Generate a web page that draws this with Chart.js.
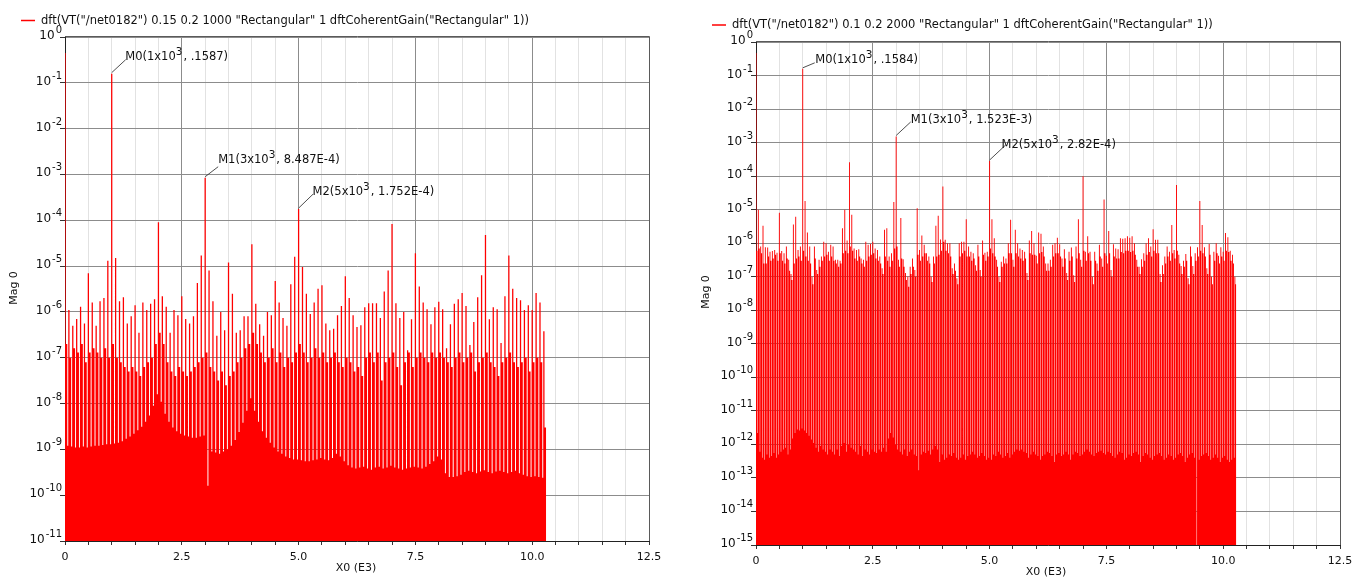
<!DOCTYPE html>
<html>
<head>
<meta charset="utf-8">
<title>DFT magnitude</title>
<script src="https://cdn.jsdelivr.net/npm/chart.js@4.4.1/dist/chart.umd.min.js"></script>
<style>
  html, body { margin: 0; padding: 0; background: #fff; width: 1364px; height: 579px; overflow: hidden; }
  .panel { position: absolute; top: 0; height: 579px; }
  #left-wrap { left: 0; width: 680px; }
  #right-wrap { left: 680px; width: 684px; }
</style>
</head>
<body>
<div class="panel" id="left-wrap"><canvas id="left-chart" width="680" height="579"></canvas></div>
<div class="panel" id="right-wrap"><canvas id="right-chart" width="684" height="579"></canvas></div>
<script>
// ---- left trace: dft 0.15..0.2 s, 1000 pts, lines every 1/12 kHz ----
const leftStep = 1 / 12;
const leftTops = [
  4.5e-1, 1.1e-6, 5e-7, 7e-7, 1.3e-6, 5.6e-7, 7e-6, 1.6e-6, 5e-7, 1.7e-6, 2e-6, 1.3e-5,
  1.587e-1, 1.5e-5, 1.7e-6, 2.1e-6, 5.6e-7, 8e-7, 1.4e-6, 3.5e-7, 1.6e-6, 1.1e-6, 1.5e-6, 1.9e-6,
  9e-5, 2.2e-6, 1.3e-6, 3.5e-7, 1.1e-6, 8.5e-7, 2.2e-6, 7e-7, 5.6e-7, 8e-7, 4.3e-6, 1.7e-5,
  8.487e-4, 8e-6, 1.7e-6, 3e-7, 1e-6, 4e-7, 1.2e-5, 2.5e-6, 3.5e-7, 4e-7, 8e-7, 8e-7,
  3e-5, 1.5e-6, 5.4e-7, 3e-7, 1e-6, 8.5e-7, 4.7e-6, 1.6e-6, 7.4e-7, 5e-7, 4e-6, 1.6e-5,
  1.752e-4, 9.5e-6, 2.5e-6, 9e-7, 1.6e-6, 3.2e-6, 3.8e-6, 5.6e-7, 4e-7, 4.3e-7, 8.5e-7, 1.35e-6,
  6e-6, 2e-6, 8.5e-7, 4.7e-7, 5.1e-7, 1.26e-6, 1.55e-6, 1.55e-6, 1.55e-6, 7.4e-7, 2.8e-6, 8e-6,
  8.3e-5, 1.55e-6, 7.4e-7, 1e-6, 1.45e-7, 6.9e-7, 1.9e-5, 3.6e-6, 1.6e-6, 1.15e-6, 5.4e-7, 1.26e-6,
  1.66e-6, 1.15e-6, 1.6e-7, 5.4e-7, 1.5e-6, 1.9e-6, 2.6e-6, 1.35e-6, 1.9e-7, 6e-7, 2.1e-6, 6.3e-6,
  4.8e-5, 6.9e-7, 1.26e-6, 1.15e-6, 2.1e-7, 2.2e-6, 1.7e-5, 3.2e-6, 2e-6, 1.8e-6, 1.1e-6, 1.4e-6,
  1.1e-6, 2.6e-6, 1.6e-6, 3.8e-7
];
const leftMids = [
  2e-7, 1e-7, 1.6e-7, 1.3e-7, 2e-7, 8e-8, 1.3e-7, 1.6e-7, 1.3e-7, 1e-7, 1.6e-7, 1e-7,
  2e-7, 1e-7, 8e-8, 6.3e-8, 5e-8, 6.3e-8, 5e-8, 4e-8, 6.3e-8, 8e-8, 1e-7, 2e-7,
  3.5e-7, 2e-7, 8e-8, 5e-8, 4e-8, 6.3e-8, 5e-8, 4e-8, 5e-8, 6.3e-8, 8e-8, 1e-7,
  1.3e-7, 6.3e-8, 5e-8, 3.2e-8, 5e-8, 2.5e-8, 4e-8, 5e-8, 8e-8, 1e-7, 1.6e-7, 2e-7,
  3.5e-7, 2e-7, 1.3e-7, 8e-8, 1e-7, 1.6e-7, 8e-8, 1.3e-7, 6.3e-8, 1e-7, 8e-8, 1.3e-7,
  2e-7, 1.3e-7, 8e-8, 1e-7, 1.6e-7, 1e-7, 1.3e-7, 8e-8, 1e-7, 1.3e-7, 8e-8, 6.3e-8,
  1e-7, 8e-8, 5e-8, 6.3e-8, 4e-8, 1e-7, 1.3e-7, 8e-8, 1.3e-7, 3.2e-8, 8e-8, 1e-7,
  1.3e-7, 6.3e-8, 2.5e-8, 8e-8, 1.3e-7, 6.3e-8, 1e-7, 1.3e-7, 1e-7, 8e-8, 1.3e-7, 1e-7,
  1.3e-7, 1e-7, 8e-8, 6.3e-8, 1e-7, 1.3e-7, 8e-8, 1e-7, 1.3e-7, 5e-8, 8e-8, 1e-7,
  1.3e-7, 8e-8, 6.3e-8, 4e-8, 8e-8, 1e-7, 1.3e-7, 8e-8, 6.3e-8, 8e-8, 1e-7, 5e-8,
  8e-8, 1e-7, 8e-8, 3e-9
];
const leftFloors = [
  1.3e-9, 1.2e-9, 1.15e-9, 1.1e-9, 1.1e-9, 1.15e-9, 1.1e-9, 1.15e-9, 1.2e-9, 1.2e-9, 1.25e-9, 1.3e-9,
  1.3e-9, 1.35e-9, 1.4e-9, 1.5e-9, 1.7e-9, 1.9e-9, 2.2e-9, 2.6e-9, 3.1e-9, 4e-9, 5.5e-9, 9e-9,
  1.6e-8, 1.1e-8, 6e-9, 4e-9, 3e-9, 2.5e-9, 2.2e-9, 2e-9, 1.9e-9, 1.8e-9, 1.8e-9, 1.9e-9,
  2e-9, 1.6e-10, 9e-10, 8.5e-10, 8e-10, 9e-10, 1e-9, 1.2e-9, 1.6e-9, 2.4e-9, 3.8e-9, 7e-9,
  1.3e-8, 7e-9, 4e-9, 2.5e-9, 1.8e-9, 1.4e-9, 1.1e-9, 9e-10, 8e-10, 7e-10, 6.5e-10, 6e-10,
  6e-10, 5.8e-10, 5.5e-10, 5.5e-10, 5.8e-10, 6e-10, 6.5e-10, 6e-10, 5.8e-10, 6.5e-10, 8e-10, 7e-10,
  5.5e-10, 4.5e-10, 4e-10, 3.8e-10, 4e-10, 4.2e-10, 3.8e-10, 3.6e-10, 4e-10, 4.2e-10, 3.8e-10, 4e-10,
  4.4e-10, 4e-10, 3.8e-10, 3.6e-10, 3.8e-10, 4e-10, 4.2e-10, 4e-10, 3.8e-10, 4.2e-10, 4.8e-10, 5.5e-10,
  7e-10, 6e-10, 3e-10, 2.5e-10, 2.5e-10, 2.6e-10, 2.8e-10, 3.2e-10, 3.4e-10, 3.2e-10, 3e-10, 3.3e-10,
  3.5e-10, 3.2e-10, 3e-10, 3.3e-10, 3.4e-10, 3.2e-10, 3e-10, 3.2e-10, 3.4e-10, 3e-10, 2.8e-10, 2.6e-10,
  2.5e-10, 2.6e-10, 2.5e-10, 2.4e-10
];

// ---- right trace: dft 0.1..0.2 s, 2000 pts, lines every 50 Hz ----
const rightStep = 0.05;
const rightTops = [
  4.7e-1, 1e-5, 8e-7, 3.3e-6, 7.6e-7, 7.4e-7, 5.6e-7, 5.9e-7, 6.3e-7, 5.2e-7,
  8.1e-6, 5.9e-7, 5e-7, 8e-7, 3.2e-7, 1.2e-7, 3.6e-6, 6.2e-6, 6.3e-7, 8e-7,
  1.584e-1, 1.8e-5, 2.1e-6, 8e-7, 1e-7, 8e-7, 1.6e-7, 3.2e-7, 4e-7, 1.1e-6,
  1e-6, 5.6e-7, 9e-7, 8e-7, 3.2e-7, 3.2e-7, 3e-7, 2.8e-6, 1e-5, 1.2e-6,
  2.6e-4, 7e-6, 7e-7, 6.3e-7, 6.6e-7, 3.5e-7, 3.2e-7, 1.1e-6, 9e-7, 9.5e-7,
  1.1e-6, 7e-7, 6.3e-7, 4e-7, 1.8e-7, 2.5e-6, 2.8e-6, 4e-7, 5e-7, 1.7e-5,
  1.523e-3, 3.2e-7, 5.6e-6, 3.3e-7, 1.3e-7, 1e-7, 2e-7, 3.5e-7, 1.6e-7, 1.1e-5,
  6.3e-7, 1.7e-6, 9e-7, 5e-7, 4e-7, 1e-7, 4e-7, 3.3e-6, 6.6e-6, 1.3e-6,
  4.9e-5, 1.26e-6, 1e-6, 1e-6, 1.8e-7, 2.5e-7, 9e-8, 1e-6, 1.1e-6, 1.1e-6,
  5.2e-6, 8e-7, 5.6e-7, 5e-7, 2.2e-7, 9e-7, 1.6e-7, 1.2e-6, 5.2e-7, 5.6e-7,
  2.82e-4, 5.2e-6, 1.4e-6, 3.2e-7, 1e-7, 2.8e-7, 4e-7, 3.5e-7, 1e-6, 5e-6,
  3.2e-7, 2.5e-6, 1e-6, 7e-7, 6.3e-7, 5.6e-7, 1.3e-7, 1.2e-6, 2.3e-6, 1e-6,
  4.2e-7, 2.1e-6, 1.9e-6, 8e-7, 2.5e-7, 2.5e-7, 3.2e-7, 9e-7, 1e-6, 1.45e-6,
  9.3e-7, 3.5e-7, 6.6e-7, 1.3e-7, 5.6e-7, 7.4e-7, 1.1e-7, 8e-7, 5.2e-6, 3.2e-7,
  1e-4, 5.6e-7, 1.6e-6, 5.6e-7, 1e-7, 5.6e-7, 2.5e-7, 9e-7, 3.5e-7, 2e-5,
  4.2e-7, 2.3e-6, 1.6e-7, 9.3e-7, 7e-7, 6.6e-7, 1.4e-6, 1.35e-6, 1.4e-6, 1.6e-6,
  1.45e-6, 1.6e-6, 1e-6, 3.2e-7, 2e-7, 3.3e-7, 5e-7, 1e-6, 1.4e-6, 8e-7,
  2.6e-6, 1.26e-6, 1.26e-6, 1.2e-7, 2.2e-7, 4e-7, 8e-7, 5.6e-7, 3.5e-6, 6.3e-7,
  5.4e-5, 4.5e-7, 2.1e-7, 3e-7, 4.8e-7, 9e-8, 8e-7, 2.1e-7, 5e-7, 7.6e-7,
  1.8e-5, 3.5e-6, 7.6e-7, 1.8e-7, 9.5e-7, 1e-7, 5.6e-7, 1e-6, 4.2e-7, 7.6e-7,
  5.6e-7, 2e-6, 1.5e-6, 6e-7, 4.5e-7, 1e-7
];
const rightMids = [
  6e-7, 7e-7, 5e-7, 2.5e-7, 2.5e-7, 4e-7, 3e-7, 3.5e-7, 4.5e-7, 3e-7,
  5e-7, 3e-7, 2.5e-7, 3.5e-7, 1.5e-7, 8e-8, 2.5e-7, 3.5e-7, 4e-7, 3e-7,
  6e-7, 4e-7, 3e-7, 2.5e-7, 6e-8, 3.5e-7, 1.2e-7, 2e-7, 3e-7, 4e-7,
  4.5e-7, 3e-7, 4e-7, 3e-7, 2.5e-7, 2e-7, 2.5e-7, 5e-7, 6e-7, 5e-7,
  8e-7, 6e-7, 3.5e-7, 3e-7, 4e-7, 2.5e-7, 2e-7, 3e-7, 4e-7, 4.5e-7,
  5e-7, 3.5e-7, 3e-7, 2.5e-7, 1.2e-7, 4e-7, 3e-7, 2e-7, 3e-7, 7e-7,
  8e-7, 2e-7, 3.5e-7, 2e-7, 8e-8, 5e-8, 1.2e-7, 2e-7, 1e-7, 4.5e-7,
  3e-7, 4e-7, 5e-7, 3e-7, 2.5e-7, 7e-8, 2.5e-7, 4e-7, 4.5e-7, 6e-7,
  1.1e-6, 6e-7, 5e-7, 4e-7, 1.2e-7, 1.5e-7, 6e-8, 4e-7, 5e-7, 6e-7,
  4e-7, 4e-7, 3e-7, 3.5e-7, 1.5e-7, 4e-7, 1e-7, 4.5e-7, 3e-7, 4e-7,
  7e-7, 5e-7, 4e-7, 2e-7, 7e-8, 2e-7, 2.5e-7, 2.5e-7, 5e-7, 5e-7,
  2e-7, 5e-7, 4e-7, 3.5e-7, 3e-7, 3.5e-7, 8e-8, 5e-7, 4.5e-7, 4.5e-7,
  2.5e-7, 5e-7, 5.5e-7, 4e-7, 1.5e-7, 1.5e-7, 2e-7, 4e-7, 5e-7, 5e-7,
  4e-7, 2e-7, 3.5e-7, 8e-8, 3e-7, 4e-7, 7e-8, 3.5e-7, 5e-7, 2e-7,
  6e-7, 3e-7, 5e-7, 3e-7, 6e-8, 3e-7, 1.5e-7, 4e-7, 2e-7, 5e-7,
  2.5e-7, 5e-7, 1e-7, 4e-7, 3.5e-7, 3.5e-7, 5.5e-7, 5e-7, 6e-7, 6e-7,
  5.5e-7, 6e-7, 4.5e-7, 2e-7, 1.2e-7, 2e-7, 3e-7, 4.5e-7, 5.5e-7, 4e-7,
  6e-7, 5e-7, 5e-7, 7e-8, 1.2e-7, 2.5e-7, 4e-7, 3e-7, 5e-7, 3.5e-7,
  6e-7, 2.5e-7, 1.2e-7, 2e-7, 3e-7, 6e-8, 4e-7, 1.2e-7, 3e-7, 4e-7,
  6e-7, 5e-7, 4e-7, 1.2e-7, 4.5e-7, 6e-8, 3e-7, 5e-7, 2.5e-7, 4e-7,
  3e-7, 6e-7, 5.5e-7, 3e-7, 2.5e-7, 6e-8
];
const rightFloors = [
  2.7e-12, 2.2e-12, 6e-13, 4e-13, 3.5e-13, 5e-13, 4e-13, 4.5e-13, 5.5e-13, 4e-13,
  5e-13, 6e-13, 7e-13, 8e-13, 5e-13, 7e-13, 1.5e-12, 2.2e-12, 2.8e-12, 2.6e-12,
  3e-12, 2.6e-12, 2.2e-12, 1.8e-12, 1.4e-12, 1.1e-12, 8e-13, 6e-13, 9e-13, 7e-13,
  6e-13, 5e-13, 7e-13, 6e-13, 5e-13, 7e-13, 4.5e-13, 9e-13, 1.1e-12, 6e-13,
  1e-12, 8e-13, 7e-13, 6e-13, 5e-13, 9e-13, 4.5e-13, 7e-13, 6e-13, 5e-13,
  7e-13, 6e-13, 5.5e-13, 7e-13, 6e-13, 8e-13, 6e-13, 1.5e-12, 2.2e-12, 1.6e-12,
  1e-12, 7e-13, 6e-13, 5e-13, 7e-13, 4.5e-13, 6e-13, 7e-13, 5e-13, 4.5e-13,
  1.7e-13, 5e-13, 6e-13, 5.5e-13, 6.5e-13, 5e-13, 7e-13, 9e-13, 7e-13, 3e-13,
  5e-13, 3.5e-13, 4e-13, 5e-13, 4.5e-13, 5.5e-13, 4e-13, 3.5e-13, 4e-13, 5e-13,
  3.5e-13, 4.5e-13, 5e-13, 6e-13, 5e-13, 4e-13, 4.5e-13, 5.5e-13, 4.5e-13, 3.5e-13,
  4e-13, 3.5e-13, 5e-13, 4.5e-13, 6e-13, 5e-13, 4e-13, 4.5e-13, 5.5e-13, 4e-13,
  5e-13, 6e-13, 7e-13, 6.5e-13, 7e-13, 6e-13, 5.5e-13, 4e-13, 5e-13, 6e-13,
  5e-13, 4.5e-13, 3.5e-13, 4.5e-13, 5e-13, 6e-13, 5.5e-13, 4.5e-13, 3e-13, 5e-13,
  5.5e-13, 4.5e-13, 5e-13, 6e-13, 5e-13, 3.5e-13, 5e-13, 6e-13, 5.5e-13, 4.5e-13,
  5e-13, 6e-13, 7e-13, 6e-13, 5e-13, 4.5e-13, 5.5e-13, 6e-13, 6.5e-13, 5.5e-13,
  5e-13, 6e-13, 5.5e-13, 4.5e-13, 4e-13, 5e-13, 6e-13, 5.5e-13, 3.5e-13, 4e-13,
  5e-13, 4.5e-13, 5.5e-13, 6e-13, 5e-13, 3e-13, 4.5e-13, 5.5e-13, 5e-13, 4e-13,
  3.5e-13, 4.5e-13, 5e-13, 5.5e-13, 4.5e-13, 3.5e-13, 4e-13, 5e-13, 4.5e-13, 3.5e-13,
  4e-13, 5e-13, 5.5e-13, 4.5e-13, 3e-13, 4e-13, 5e-13, 5.5e-13, 4e-13, 1e-16,
  3.5e-13, 4.5e-13, 5e-13, 5.5e-13, 4.5e-13, 3.5e-13, 4e-13, 5e-13, 4e-13, 3e-13,
  4e-13, 4.5e-13, 3.5e-13, 3e-13, 3.5e-13, 4e-13
];

// axis ticks
const xTicks = [0, 2.5, 5, 7.5, 10, 12.5];
const xTickLabels = ['0', '2.5', '5.0', '7.5', '10.0', '12.5'];
const leftYTicks = [1e0, 1e-1, 1e-2, 1e-3, 1e-4, 1e-5, 1e-6, 1e-7, 1e-8, 1e-9, 1e-10, 1e-11];
const rightYTicks = [1e0, 1e-1, 1e-2, 1e-3, 1e-4, 1e-5, 1e-6, 1e-7, 1e-8, 1e-9, 1e-10,
  1e-11, 1e-12, 1e-13, 1e-14, 1e-15];

const FONT = '"DejaVu Sans", Verdana, sans-serif';
const RED = '#ff0000';

// Each spectral line is drawn as three held levels (stepped 'before'):
// a narrow gap down to the floor, the line itself, then a shoulder.
// gap / line are fractions of the line spacing.
function spectrum(tops, mids, floors, step, gap, line) {
  const pts = [];
  for (let k = 0; k < tops.length; k++) {
    const f = k * step;
    pts.push({ x: f - step * (gap + line / 2), y: floors[k] });
    pts.push({ x: f - step * line / 2, y: tops[k] });
    pts.push({ x: f + step * line / 2, y: mids[k] });
  }
  const last = tops.length - 1;
  pts.push({ x: last * step + step * (1 - gap - line / 2), y: mids[last] });
  return pts;
}

function drawParts(ctx, parts, x, y, size) {
  // odd entries are superscripts
  parts.forEach((p, i) => {
    const up = i % 2 === 1;
    ctx.font = `${up ? size - 1 : size}px ${FONT}`;
    ctx.fillText(p, x, up ? y - 5 : y);
    x += ctx.measureText(p).width + (up ? 1 : 0);
  });
}

const decorations = {
  id: 'decorations',
  afterDraw(chart, args, o) {
    const { ctx, chartArea: a, scales: { x, y } } = chart;
    ctx.save();

    // top and right frame
    ctx.strokeStyle = '#5a5a5a';
    ctx.lineWidth = 1;
    ctx.beginPath();
    ctx.moveTo(a.left, a.top - 0.5);
    ctx.lineTo(a.right + 0.5, a.top - 0.5);
    ctx.lineTo(a.right + 0.5, a.bottom);
    ctx.stroke();

    // legend
    ctx.strokeStyle = RED;
    ctx.lineWidth = 1.5;
    ctx.beginPath();
    ctx.moveTo(o.legend.x, o.legend.y);
    ctx.lineTo(o.legend.x + 14, o.legend.y);
    ctx.stroke();
    ctx.fillStyle = '#111';
    ctx.font = `11.5px ${FONT}`;
    ctx.textBaseline = 'middle';
    ctx.textAlign = 'left';
    ctx.fillText(o.legend.text, o.legend.x + 20, o.legend.y + 0.5);

    // y tick labels 10^n
    ctx.textBaseline = 'alphabetic';
    ctx.textAlign = 'right';
    o.yTicks.forEach(v => {
      const py = y.getPixelForValue(v);
      const e = String(Math.round(Math.log10(v)));
      const right = a.left - 3;
      ctx.font = `10px ${FONT}`;
      const ew = ctx.measureText(e).width;
      ctx.fillText(e, right, py - 4);
      ctx.font = `12px ${FONT}`;
      ctx.fillText('10', right - ew - 1, py + 2);
    });

    // axis titles
    ctx.textAlign = 'center';
    ctx.textBaseline = 'middle';
    ctx.font = `11px ${FONT}`;
    ctx.fillText('X0 (E3)', o.xTitle.x, o.xTitle.y);
    ctx.save();
    ctx.translate(o.yTitle.x, o.yTitle.y);
    ctx.rotate(-Math.PI / 2);
    ctx.fillText('Mag 0', 0, 0);
    ctx.restore();

    // markers with leader lines
    ctx.textAlign = 'left';
    ctx.textBaseline = 'alphabetic';
    o.markers.forEach(m => {
      const px = x.getPixelForValue(m.k * o.step);
      const py = y.getPixelForValue(o.tops[m.k]);
      ctx.strokeStyle = '#222';
      ctx.lineWidth = 0.8;
      ctx.beginPath();
      ctx.moveTo(px, py - 1);
      ctx.lineTo(px + m.dx, py + m.dy);
      ctx.stroke();
      ctx.fillStyle = '#111';
      drawParts(ctx, m.parts, px + m.tx, py + m.ty, 11.5);
    });

    ctx.restore();
  }
};

function makeChart(id, cfg) {
  const ctx = document.getElementById(id).getContext('2d');
  return new Chart(ctx, {
    type: 'line',
    data: {
      datasets: [{
        data: spectrum(cfg.tops, cfg.mids, cfg.floors, cfg.step, cfg.gap, cfg.line),
        stepped: 'before',
        fill: 'start',
        backgroundColor: RED,
        borderColor: 'rgba(0,0,0,0)',
        borderWidth: 0,
        pointRadius: 0,
        tension: 0
      }]
    },
    options: {
      responsive: false,
      animation: false,
      events: [],
      layout: { padding: cfg.padding },
      plugins: {
        legend: { display: false },
        tooltip: { enabled: false },
        decorations: {
          legend: cfg.legend,
          xTitle: cfg.xTitle,
          yTitle: cfg.yTitle,
          yTicks: cfg.yTicks,
          markers: cfg.markers,
          tops: cfg.tops,
          step: cfg.step
        }
      },
      scales: {
        x: {
          type: 'linear',
          min: 0,
          max: 12.5,
          afterFit: s => { s.height = cfg.xAxisHeight; },
          border: { color: '#222' },
          grid: {
            color: c => {
              const v = c.tick ? c.tick.value : 0;
              return Math.abs(v / 2.5 - Math.round(v / 2.5)) < 1e-6 ? '#8c8c8c' : '#e2e2e2';
            },
            tickColor: '#333',
            tickLength: 4
          },
          ticks: {
            stepSize: 0.5,
            autoSkip: false,
            maxRotation: 0,
            padding: 6,
            color: '#111',
            font: { family: FONT, size: 11 },
            callback: v => {
              const i = xTicks.findIndex(t => Math.abs(t - v) < 1e-6);
              return i >= 0 ? xTickLabels[i] : '';
            }
          }
        },
        y: {
          type: 'logarithmic',
          min: cfg.yTicks[cfg.yTicks.length - 1],
          max: cfg.yTicks[0],
          afterBuildTicks: s => { s.ticks = cfg.yTicks.map(v => ({ value: v, major: true })); },
          afterFit: s => { s.width = cfg.yAxisWidth; },
          border: { color: '#222' },
          grid: { color: '#8c8c8c', tickColor: '#333', tickLength: 5 },
          ticks: { display: false }
        }
      }
    },
    plugins: [decorations]
  });
}

makeChart('left-chart', {
  tops: leftTops, mids: leftMids, floors: leftFloors, step: leftStep,
  gap: 0.25, line: 0.33,
  yTicks: leftYTicks,
  padding: { left: 0, top: 37, right: 31, bottom: 0 },
  yAxisWidth: 65, xAxisHeight: 38,
  legend: { x: 21, y: 20.5, text: 'dft(VT("/net0182") 0.15 0.2 1000 "Rectangular" 1 dftCoherentGain("Rectangular" 1))' },
  xTitle: { x: 356, y: 568 },
  yTitle: { x: 14, y: 288 },
  markers: [
    { k: 12, parts: ['M0(1x10', '3', ', .1587)'], dx: 14, dy: -14, tx: 13.5, ty: -14 },
    { k: 36, parts: ['M1(3x10', '3', ', 8.487E-4)'], dx: 13, dy: -11, tx: 13, ty: -14.5 },
    { k: 60, parts: ['M2(5x10', '3', ', 1.752E-4)'], dx: 14.5, dy: -15, tx: 14, ty: -14 }
  ]
});

makeChart('right-chart', {
  tops: rightTops, mids: rightMids, floors: rightFloors, step: rightStep,
  gap: 0.2, line: 0.4,
  yTicks: rightYTicks,
  padding: { left: 0, top: 42, right: 24, bottom: 0 },
  yAxisWidth: 76, xAxisHeight: 34,
  legend: { x: 32, y: 25, text: 'dft(VT("/net0182") 0.1 0.2 2000 "Rectangular" 1 dftCoherentGain("Rectangular" 1))' },
  xTitle: { x: 366, y: 572 },
  yTitle: { x: 26, y: 292 },
  markers: [
    { k: 20, parts: ['M0(1x10', '3', ', .1584)'], dx: 12, dy: -6, tx: 12.5, ty: -6 },
    { k: 60, parts: ['M1(3x10', '3', ', 1.523E-3)'], dx: 14.5, dy: -14.5, tx: 14.5, ty: -13.5 },
    { k: 100, parts: ['M2(5x10', '3', ', 2.82E-4)'], dx: 16, dy: -16, tx: 12, ty: -13 }
  ]
});
</script>
</body>
</html>
